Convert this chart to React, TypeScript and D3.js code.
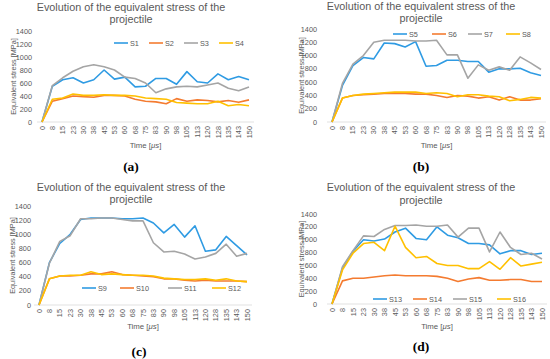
import * as d3 from 'd3';

// time steps (µs) on the category axis
const times = ['0', '8', '15', '23', '30', '38', '45', '53', '60', '68', '75', '83', '90', '98', '105', '113', '120', '128', '135', '143', '150'];
const yTicks = [0, 200, 400, 600, 800, 1000, 1200, 1400];

// equivalent stress [MPa]
const s1 = [0, 550, 650, 680, 600, 650, 800, 660, 690, 540, 550, 670, 670, 580, 775, 620, 600, 740, 650, 700, 650];
const s2 = [0, 320, 360, 400, 390, 380, 410, 410, 400, 350, 320, 310, 280, 360, 320, 340, 330, 310, 330, 305, 340];
const s3 = [0, 560, 680, 780, 850, 880, 850, 800, 690, 670, 600, 450, 510, 540, 550, 540, 570, 600, 520, 480, 540];
const s4 = [0, 350, 370, 430, 410, 410, 420, 410, 410, 400, 370, 360, 350, 300, 290, 280, 280, 320, 250, 270, 250];

const s5 = [0, 550, 850, 970, 950, 1190, 1180, 1130, 1210, 840, 850, 930, 930, 910, 910, 750, 800, 800, 810, 740, 700];
const s6 = [0, 360, 400, 410, 420, 430, 430, 430, 420, 420, 400, 370, 400, 390, 360, 380, 330, 380, 330, 330, 350];
const s7 = [0, 580, 870, 1000, 1200, 1230, 1230, 1230, 1220, 1220, 1230, 1010, 1010, 660, 860, 780, 830, 780, 980, 890, 790];
const s8 = [0, 360, 400, 420, 430, 440, 450, 450, 450, 430, 440, 430, 380, 410, 410, 390, 380, 320, 340, 370, 360];

const s9 = [0, 600, 870, 1000, 1210, 1230, 1230, 1230, 1220, 1220, 1230, 1160, 1020, 1140, 960, 1120, 760, 780, 970, 840, 710];
const s10 = [0, 370, 410, 410, 420, 440, 440, 470, 430, 420, 410, 400, 370, 370, 350, 340, 350, 340, 340, 340, 330];
const s11 = [0, 590, 900, 980, 1220, 1220, 1230, 1230, 1210, 1190, 1190, 880, 750, 760, 720, 650, 680, 730, 860, 690, 730];
const s12 = [0, 370, 410, 420, 420, 470, 430, 440, 430, 420, 420, 410, 380, 370, 360, 360, 370, 350, 370, 340, 330];

const s13 = [0, 560, 820, 1000, 980, 1010, 1120, 1180, 1020, 1000, 1200, 1070, 1030, 940, 940, 920, 780, 830, 830, 770, 790];
const s14 = [0, 360, 400, 400, 420, 440, 450, 440, 440, 440, 430, 400, 350, 390, 410, 370, 370, 380, 380, 350, 350];
const s15 = [0, 580, 830, 1060, 1050, 1160, 1220, 1220, 1230, 1210, 1210, 1230, 1040, 1180, 1180, 810, 1120, 880, 770, 790, 700];
const s16 = [0, 530, 790, 940, 960, 830, 1210, 880, 720, 740, 630, 600, 600, 550, 550, 660, 540, 720, 590, 620, 650];

const colors = ['#2f9be3', '#f47b30', '#a5a5a5', '#ffc000'];
const FONT = 'Liberation Sans, Arial, sans-serif';
const GREY = '#595959';

interface Series { name: string; values: number[] }
interface Panel {
  tag: string;
  series: Series[];
  titleX: number; titleY: [number, number];
  xr: [number, number]; yr: [number, number];
  tickX: number; timeY: number;
  labelX: number; labelY: number;
  legendY: number; legendX: number[];
  yTitleX: number;
}

const panels: Panel[] = [
  {
    tag: '(a)',
    series: [{ name: 'S1', values: s1 }, { name: 'S2', values: s2 }, { name: 'S3', values: s3 }, { name: 'S4', values: s4 }],
    titleX: 131, titleY: [11, 23], xr: [42, 249], yr: [122, 31], tickX: 32, timeY: 148,
    labelX: 131, labelY: 171, legendY: 43, legendX: [114, 149, 184, 219], yTitleX: 13,
  },
  {
    tag: '(b)',
    series: [{ name: 'S5', values: s5 }, { name: 'S6', values: s6 }, { name: 'S7', values: s7 }, { name: 'S8', values: s8 }],
    titleX: 421, titleY: [10, 22], xr: [332, 541], yr: [122, 29], tickX: 317, timeY: 148,
    labelX: 421, labelY: 171, legendY: 34, legendX: [393, 432, 468, 506], yTitleX: 301,
  },
  {
    tag: '(c)',
    series: [{ name: 'S9', values: s9 }, { name: 'S10', values: s10 }, { name: 'S11', values: s11 }, { name: 'S12', values: s12 }],
    titleX: 131, titleY: [191, 203], xr: [39, 247], yr: [305, 206], tickX: 31, timeY: 329,
    labelX: 139, labelY: 356, legendY: 288, legendX: [82, 120, 168, 212], yTitleX: 12,
  },
  {
    tag: '(d)',
    series: [{ name: 'S13', values: s13 }, { name: 'S14', values: s14 }, { name: 'S15', values: s15 }, { name: 'S16', values: s16 }],
    titleX: 421, titleY: [191, 204], xr: [332, 542], yr: [304, 214], tickX: 317, timeY: 329,
    labelX: 421, labelY: 351, legendY: 299, legendX: [373, 413, 453, 497], yTitleX: 301,
  },
];

function ChartPanel({ p }: { p: Panel }) {
  const x = d3.scalePoint<string>().domain(times).range(p.xr);
  const y = d3.scaleLinear().domain([0, 1400]).range(p.yr);
  const line = d3.line<number>()
    .x((_, i) => x(times[i]) as number)
    .y((d) => y(d));
  const cx = (p.xr[0] + p.xr[1]) / 2;
  const cy = (p.yr[0] + p.yr[1]) / 2;

  return (
    <g>
      <text x={p.titleX} y={p.titleY[0]} textAnchor="middle" fontSize={10.8} fill={GREY} fontFamily={FONT}>
        Evolution of the equivalent stress of the
      </text>
      <text x={p.titleX} y={p.titleY[1]} textAnchor="middle" fontSize={10.8} fill={GREY} fontFamily={FONT}>
        projectile
      </text>

      {yTicks.map((t) => (
        <text key={t} x={p.tickX} y={y(t)} dy="0.35em" textAnchor="end" fontSize={7.3} fill={GREY} fontFamily={FONT}>
          {t}
        </text>
      ))}

      <line x1={p.xr[0] - 5} x2={p.xr[1] + 5} y1={y(0)} y2={y(0)} stroke="#d9d9d9" strokeWidth={0.8} />

      {times.map((t) => (
        <text
          key={t}
          transform={`translate(${x(t)},${y(0) + 4}) rotate(-90)`}
          dy="0.35em"
          textAnchor="end"
          fontSize={7.3}
          fill={GREY}
          fontFamily={FONT}
        >
          {t}
        </text>
      ))}

      <text
        transform={`translate(${p.yTitleX},${cy}) rotate(-90)`}
        dy="0.35em"
        textAnchor="middle"
        fontSize={7.3}
        fill={GREY}
        fontFamily={FONT}
      >
        Equivalent stress [MPa]
      </text>

      <text x={cx} y={p.timeY} textAnchor="middle" fontSize={7.8} fill={GREY} fontFamily={FONT}>
        Time [<tspan fontStyle="italic">μs</tspan>]
      </text>

      {p.series.map((s, i) => (
        <path key={s.name} d={line(s.values) as string} fill="none" stroke={colors[i]} strokeWidth={1.6} strokeLinejoin="round" />
      ))}

      {p.series.map((s, i) => (
        <g key={s.name}>
          <line x1={p.legendX[i]} x2={p.legendX[i] + 14} y1={p.legendY} y2={p.legendY} stroke={colors[i]} strokeWidth={1.6} />
          <text x={p.legendX[i] + 16} y={p.legendY} dy="0.35em" fontSize={7.3} fill={GREY} fontFamily={FONT}>
            {s.name}
          </text>
        </g>
      ))}

      <text x={p.labelX} y={p.labelY} textAnchor="middle" fontSize={13.5} fontWeight="bold" fill="#000" fontFamily="Liberation Serif, serif">
        {p.tag}
      </text>
    </g>
  );
}

export default function App() {
  return (
    <svg width={550} height={359} style={{ position: 'absolute', left: 0, top: 0, background: '#fff' }}>
      {panels.map((p) => (
        <ChartPanel key={p.tag} p={p} />
      ))}
    </svg>
  );
}
